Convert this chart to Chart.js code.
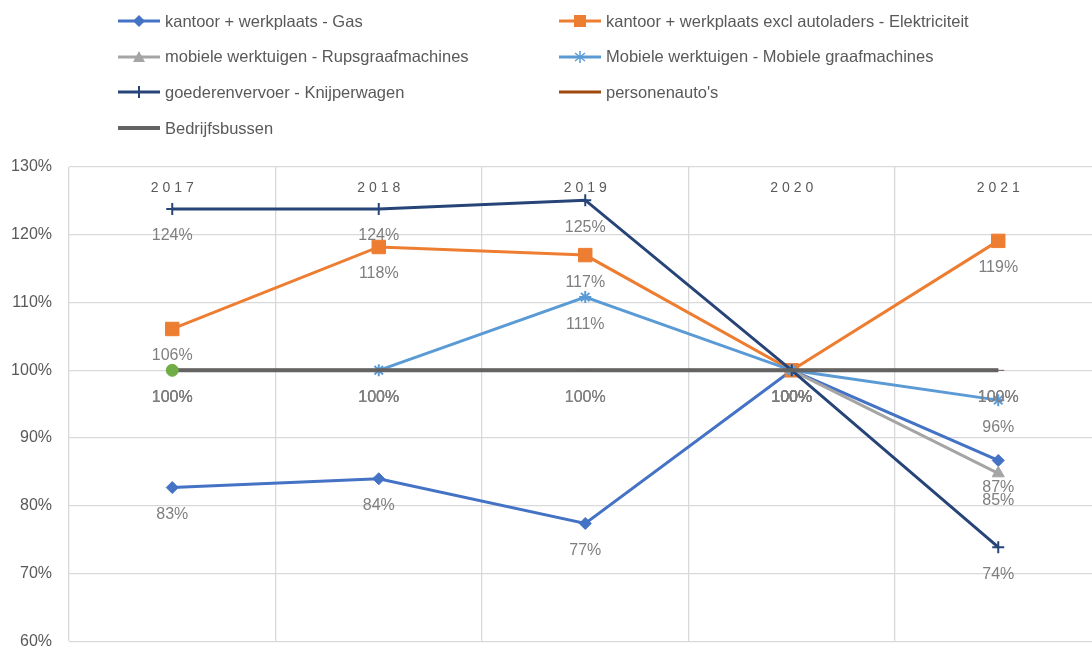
<!DOCTYPE html>
<html><head><meta charset="utf-8">
<script src="https://cdn.jsdelivr.net/npm/chart.js@4"></script>
<style>
html,body{margin:0;padding:0;background:#fff;overflow:hidden}
#wrap{position:relative;width:1092px;height:646px;overflow:hidden;background:#fff}
#c{position:absolute;left:0;top:0;width:1112px;height:668px}
#legend{position:absolute;left:0;top:0;width:1092px;height:150px;font-family:"Liberation Sans",Arial,sans-serif;font-size:16.5px;color:#595959}
.li{position:absolute;display:flex;align-items:center;height:20px;white-space:nowrap}
.li svg{margin-right:5px;flex:none}
</style></head><body>
<div id="wrap"><canvas id="c" width="1112" height="668"></canvas><div id="legend"></div></div>
<script>
// ---- data ----
const categories = ['2017', '2018', '2019', '2020', '2021'];
const seriesNames = [
  'kantoor + werkplaats - Gas',
  'kantoor + werkplaats excl autoladers - Elektriciteit',
  'mobiele werktuigen - Rupsgraafmachines',
  'Mobiele werktuigen - Mobiele graafmachines',
  'goederenvervoer - Knijperwagen',
  "personenauto's",
  'Bedrijfsbussen'
];
const gas = [82.7, 84.0, 77.4, 100, 86.7];
const elektriciteit = [106.1, 118.2, 117.0, 100, 119.1];
const rupsgraaf = [null, null, null, 100, 84.8];
const mobieleGraaf = [null, 100, 110.8, 100, 95.6];
const knijperwagen = [123.8, 123.8, 125.1, 100, 73.9];
const personenautos = [100, 100, 100, 100, 100];
const bedrijfsbussen = [100, 100, 100, 100, 100];
const extraPoint = [100, null, null, null, null];
const yMin = 60, yMax = 130, yStep = 10;

// ---- styles ----
const colors = ['#4472C4', '#ED7D31', '#A5A5A5', '#5B9BD5', '#264478', '#9E480E', '#636363', '#70AD47'];
const styles = ['rectRot', 'rect', 'triangle', 'star', 'cross', false, 'line', 'circle'];
const radii = [6, 9.5, 7, 6, 6, 0, 6, 6];
const widths = [3, 3, 3, 3, 3, 3, 4, 3];
const values = [gas, elektriciteit, rupsgraaf, mobieleGraaf, knijperwagen, personenautos, bedrijfsbussen, extraPoint];
const names = seriesNames.concat(['']);

const datasets = values.map((v, i) => ({
  label: names[i],
  data: v,
  borderColor: colors[i],
  backgroundColor: colors[i],
  borderWidth: widths[i],
  pointStyle: styles[i] || 'circle',
  pointRadius: radii[i],
  pointBorderWidth: (styles[i] === 'star' || styles[i] === 'cross') ? 2 : 1,
  pointBorderColor: colors[i],
  pointBackgroundColor: colors[i],
  showLine: i !== 7,
  spanGaps: false,
  tension: 0,
  order: values.length - i
}));

const FONT = '"Liberation Sans", Arial, sans-serif';

const xLabelsPlugin = {
  id: 'xLabels',
  beforeDatasetsDraw(chart) {
    const ctx = chart.ctx, xs = chart.scales.x, top = chart.chartArea.top;
    ctx.save();
    ctx.font = '14px ' + FONT;
    ctx.fillStyle = '#595959';
    ctx.textBaseline = 'middle';
    ctx.textAlign = 'left';
    const sp = 4;
    categories.forEach((c, i) => {
      const cx = xs.getPixelForTick(i);
      const chars = c.split('');
      const total = chars.reduce((a, ch) => a + ctx.measureText(ch).width, 0) + sp * (chars.length - 1);
      let x = cx - total / 2;
      chars.forEach(ch => { ctx.fillText(ch, x, top + 21); x += ctx.measureText(ch).width + sp; });
    });
    ctx.restore();
  }
};

const dataLabelsPlugin = {
  id: 'dataLabels',
  afterDatasetsDraw(chart) {
    const ctx = chart.ctx;
    ctx.save();
    ctx.font = '16px ' + FONT;
    ctx.fillStyle = '#7F7F7F';
    ctx.textAlign = 'center';
    ctx.textBaseline = 'middle';
    chart.data.datasets.forEach((ds, di) => {
      const meta = chart.getDatasetMeta(di);
      meta.data.forEach((pt, j) => {
        const v = ds.data[j];
        if (v === null || v === undefined) return;
        ctx.fillText(Math.round(v) + '%', pt.x, pt.y + 27);
      });
    });
    ctx.restore();
  }
};

const chart = new Chart(document.getElementById('c'), {
  type: 'line',
  data: { labels: categories, datasets },
  options: {
    responsive: false,
    animation: false,
    layout: { padding: { top: 167, bottom: 15, right: 2, left: 0 } },
    plugins: { legend: { display: false }, tooltip: { enabled: false } },
    scales: {
      x: {
        offset: true,
        grid: { offset: true, color: '#D9D9D9', lineWidth: 1.3, drawTicks: false },
        border: { display: false },
        ticks: { display: false }
      },
      y: {
        min: yMin, max: yMax,
        afterFit(scale) { scale.width = 69; },
        grid: { color: '#D9D9D9', lineWidth: 1.3, drawTicks: false },
        border: { display: false },
        ticks: {
          stepSize: yStep, padding: 17, color: '#595959',
          font: { family: FONT, size: 16 },
          callback: v => v + '%'
        }
      }
    }
  },
  plugins: [xLabelsPlugin, dataLabelsPlugin]
});

// ---- legend (HTML, built from series names/styles) ----
function markerSvg(i) {
  const c = colors[i], w = widths[i];
  let m = '';
  const cx = 21, cy = 8;
  switch (styles[i]) {
    case 'rectRot': m = `<polygon points="${cx},${cy-6} ${cx+6},${cy} ${cx},${cy+6} ${cx-6},${cy}" fill="${c}"/>`; break;
    case 'rect': m = `<rect x="${cx-6}" y="${cy-6}" width="12" height="12" fill="${c}"/>`; break;
    case 'triangle': m = `<polygon points="${cx},${cy-6} ${cx+6},${cy+5} ${cx-6},${cy+5}" fill="${c}"/>`; break;
    case 'star': m = `<g stroke="${c}" stroke-width="1.5"><line x1="${cx}" y1="${cy-6}" x2="${cx}" y2="${cy+6}"/><line x1="${cx-5}" y1="${cy-4}" x2="${cx+5}" y2="${cy+4}"/><line x1="${cx-5}" y1="${cy+4}" x2="${cx+5}" y2="${cy-4}"/></g>`; break;
    case 'cross': m = `<line x1="${cx}" y1="${cy-6}" x2="${cx}" y2="${cy+6}" stroke="${c}" stroke-width="2"/>`; break;
  }
  return `<svg width="42" height="16" viewBox="0 0 42 16"><line x1="0" y1="${cy}" x2="42" y2="${cy}" stroke="${c}" stroke-width="${w}" stroke-linecap="round"/>${m}</svg>`;
}
const leg = document.getElementById('legend');
seriesNames.forEach((n, i) => {
  const col = i % 2, row = Math.floor(i / 2);
  const d = document.createElement('div');
  d.className = 'li';
  d.style.left = (col ? 559 : 118) + 'px';
  d.style.top = (11 + row * 35.7) + 'px';
  d.innerHTML = markerSvg(i) + '<span></span>';
  d.querySelector('span').textContent = n;
  leg.appendChild(d);
});
</script>
</body></html>
